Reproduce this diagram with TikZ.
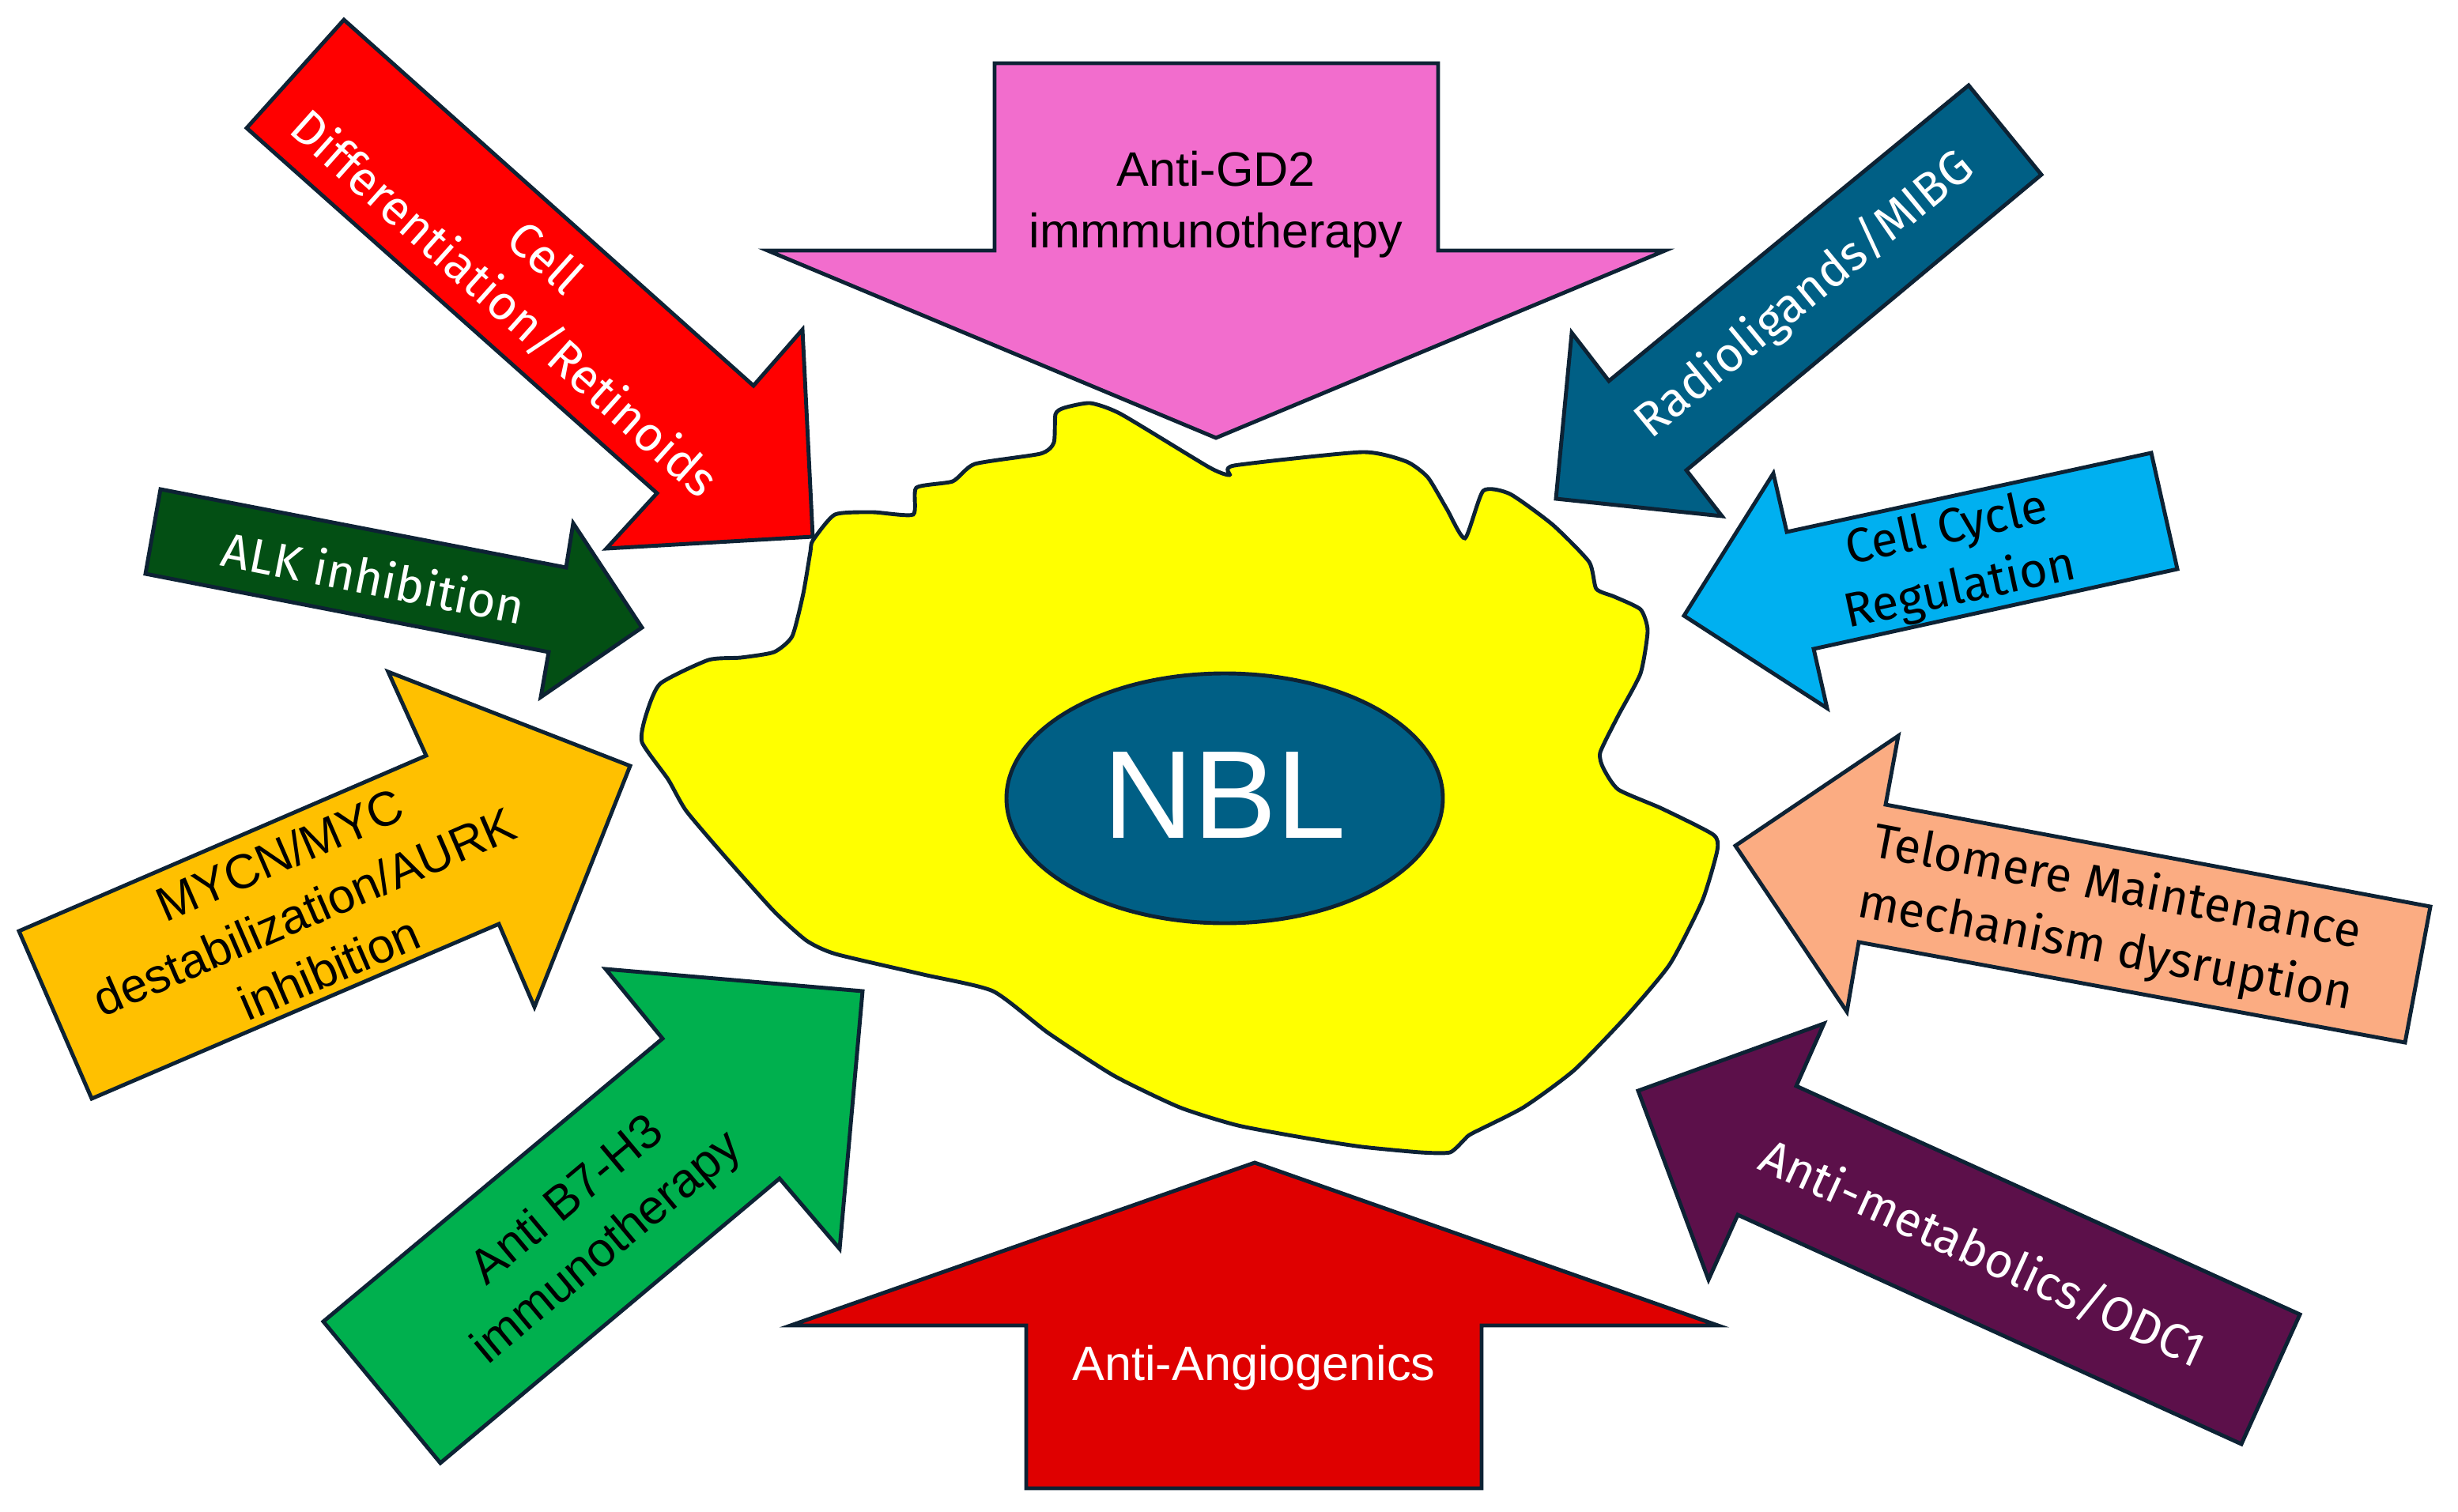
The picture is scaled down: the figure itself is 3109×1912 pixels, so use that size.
\documentclass[tikz,border=0pt]{standalone}
\usepackage{fontspec}
\setmainfont{Fira Sans}
\newfontfamily\arialf{Liberation Sans}
\definecolor{outl}{HTML}{0D2234}
\definecolor{cpink}{HTML}{F26DCD}
\definecolor{cred}{HTML}{FF0000}
\definecolor{credb}{HTML}{DF0000}
\definecolor{cgreend}{HTML}{034F14}
\definecolor{corange}{HTML}{FFC000}
\definecolor{cgreen}{HTML}{00B04E}
\definecolor{cteal}{HTML}{005F85}
\definecolor{ccyan}{HTML}{00B0F0}
\definecolor{cpeach}{HTML}{FBAC82}
\definecolor{cpurple}{HTML}{5C104A}
\definecolor{cyel}{HTML}{FFFF00}
\tikzset{
  arrowbox/.style={draw=outl, line width=1.4pt, line join=miter},
  aptxt/.style={align=center, inner sep=0pt, font=\fontsize{17.4}{22.2}\selectfont},
  arxt/.style={align=center, inner sep=0pt, font=\arialf\fontsize{17.4}{22.2}\selectfont},
}
\begin{document}
\begin{tikzpicture}[x=0.01cm, y=-0.01cm]
\useasboundingbox (0,0) rectangle (3109,1912);
\fill[white] (0,0) rectangle (3109,1912);

% cell
\draw[draw=outl, line width=1.4pt, fill=cyel] plot[smooth cycle, tension=0.35] coordinates {
(1028,684) (1056,651) (1104,648) (1155,651) (1159,617) (1205,609) (1233,587) (1316,574)
(1333,560) (1335,524) (1346,516) (1379,510) (1418,524) (1529,591) (1555,601) (1561,589)
(1723,572) (1779,584) (1806,604) (1830,644) (1853,681) (1876,621) (1910,625) (1964,664)
(2010,711) (2019,745) (2042,755) (2075,771) (2084,798) (2075,852) (2047,905) (2024,952)
(2028,972) (2047,999) (2102,1023) (2167,1056) (2172,1076) (2153,1140) (2112,1220) (2056,1287)
(1991,1354) (1927,1401) (1862,1434) (1853,1441) (1834,1458) (1797,1458) (1723,1451) (1658,1441)
(1566,1424) (1492,1401) (1409,1361) (1326,1307) (1256,1254) (1168,1233) (1057,1207) (1020,1190)
(979,1153) (919,1086) (868,1026) (845,986) (812,939) (817,905) (835,865) (896,835)
(937,832) (979,825) (1002,805) (1016,751) (1025,698)};

% nucleus
\draw[draw=outl, line width=1.4pt, fill=cteal] (1549,1010) ellipse [x radius=276, y radius=158];
\node[font=\arialf\fontsize{45}{50}\selectfont, text=white, inner sep=0pt] (nbl) at (1549,1006) {NBL};

% Anti-GD2 (pink, down)
\draw[arrowbox, fill=cpink] (1258,80) -- (1819,80) -- (1819,317) -- (2106,317) -- (1538,554) -- (971,317) -- (1258,317) -- cycle;
\node[arxt] (gd2) at (1538,259) {Anti-GD2\\immmunotherapy};

% Anti-Angiogenics (red, up)
\draw[arrowbox, fill=credb] (1587,1471) -- (2173,1677) -- (1874,1677) -- (1874,1883) -- (1298,1883) -- (1298,1677) -- (1000,1677) -- cycle;
\node[arxt, text=white] (angio) at (1586,1731) {Anti-Angiogenics};

% Cell differentiation (red)
\draw[arrowbox, fill=cred] (435,25) -- (953,488) -- (1015,417) -- (1028,679) -- (767,694) -- (831,624) -- (312,162) -- cycle;
\node[aptxt, text=white, rotate=-41.8] (diff) at (663,356) {Cell\\Differentiation/Retinoids};

% ALK (dark green)
\draw[arrowbox, fill=cgreend] (203,619) -- (716,718) -- (725,662) -- (812,794) -- (684,882) -- (694,825) -- (184,726) -- cycle;
\node[aptxt, text=white, rotate=-11.1] (alk) at (473,730) {ALK inhibition};

% MYCN (orange)
\draw[arrowbox, fill=corange] (24,1178) -- (539,956) -- (491,850) -- (797,969) -- (676,1274) -- (631,1169) -- (116,1390) -- cycle;
\node[arxt, rotate=23.4] (mycn) at (385,1153) {MYCN/MYC\\destabilization/AURK\\inhibition};

% Anti B7-H3 (green)
\draw[arrowbox, fill=cgreen] (409,1672) -- (838,1314) -- (766,1226) -- (1091,1254) -- (1062,1580) -- (986,1491) -- (557,1851) -- cycle;
\node[arxt, rotate=39.9] (b7h3) at (744,1550) {Anti B7-H3\\immunotherapy};

% Radioligands (teal)
\draw[arrowbox, fill=cteal] (2490,108) -- (2582,221) -- (2133,595) -- (2178,653) -- (1968,631) -- (1988,421) -- (2035,482) -- cycle;
\node[aptxt, text=white, rotate=39.4] (radio) at (2283,373) {Radioligands/MIBG};

% Cell cycle (cyan)
\draw[arrowbox, fill=ccyan] (2721,573) -- (2754,720) -- (2294,821) -- (2311,896) -- (2130,779) -- (2243,599) -- (2260,673) -- cycle;
\node[aptxt, rotate=12.3] (cycle) at (2471,709) {Cell Cycle\\Regulation};

% Telomere (peach)
\draw[arrowbox, fill=cpeach] (3074,1147) -- (3042,1319) -- (2351,1192) -- (2336,1280) -- (2195,1070) -- (2401,931) -- (2385,1018) -- cycle;
\node[aptxt, rotate=-10.7] (telo) at (2670,1163) {Telomere Maintenance\\mechanism dysruption};

% Anti-metabolics (purple)
\draw[arrowbox, fill=cpurple] (2909,1663) -- (2835,1827) -- (2198,1537) -- (2161,1619) -- (2072,1380) -- (2307,1295) -- (2272,1374) -- cycle;
\node[aptxt, text=white, rotate=-24.5] (metab) at (2508,1585) {Anti-metabolics/ODC1};
\end{tikzpicture}
\end{document}
